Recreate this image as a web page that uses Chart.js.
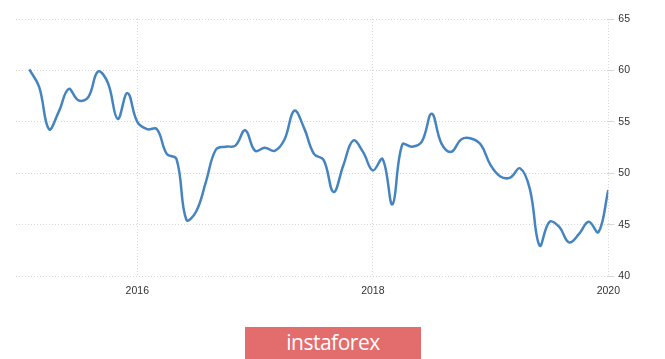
<!DOCTYPE html>
<html>
<head>
<meta charset="utf-8">
<script src="https://cdn.jsdelivr.net/npm/chart.js@4/dist/chart.umd.min.js"></script>
<style>
  body { margin: 0; background: #fff; }
  #wrap { position: relative; width: 665px; height: 359px; }
  #badge {
    position: absolute; left: 245px; top: 327px; width: 176px; height: 32px;
    background: #e36d6d; color: #fff; font: 21px "Open Sans", sans-serif;
    text-align: center; line-height: 31px; letter-spacing: -0.5px;
  }
</style>
</head>
<body>
<div id="wrap">
  <canvas id="chart" width="665" height="359"></canvas>
  <div id="badge">instaforex</div>
</div>
<script>
// Monthly index, Feb 2015 - Jan 2020
const months = [
  '2015-02','2015-03','2015-04','2015-05','2015-06','2015-07','2015-08','2015-09','2015-10','2015-11','2015-12',
  '2016-01','2016-02','2016-03','2016-04','2016-05','2016-06','2016-07','2016-08','2016-09','2016-10','2016-11','2016-12',
  '2017-01','2017-02','2017-03','2017-04','2017-05','2017-06','2017-07','2017-08','2017-09','2017-10','2017-11','2017-12',
  '2018-01','2018-02','2018-03','2018-04','2018-05','2018-06','2018-07','2018-08','2018-09','2018-10','2018-11','2018-12',
  '2019-01','2019-02','2019-03','2019-04','2019-05','2019-06','2019-07','2019-08','2019-09','2019-10','2019-11','2019-12',
  '2020-01'
];
const values = [
  60.1, 58.4, 54.3, 56.0, 58.2, 57.1, 57.4, 59.9, 58.8, 55.3, 57.8,
  55.0, 54.3, 54.3, 51.9, 51.4, 45.5, 46.3, 49.2, 52.3, 52.6, 52.7, 54.2,
  52.2, 52.5, 52.2, 53.3, 56.1, 54.4, 51.9, 51.3, 48.2, 50.8, 53.2, 52.1,
  50.3, 51.4, 47.0, 52.8, 52.6, 53.1, 55.8, 52.9, 52.1, 53.3, 53.4, 52.8,
  50.8, 49.7, 49.6, 50.5, 48.5, 43.0, 45.3, 44.8, 43.3, 44.1, 45.3, 44.3,
  48.4
];
const xTicks = [2016, 2018, 2020];
const yTicks = [40, 45, 50, 55, 60, 65];

// month string -> fractional year
function toYear(m) {
  const [y, mo] = m.split('-').map(Number);
  return y + (mo - 1) / 12;
}

const points = months.map((m, i) => ({ x: toYear(m), y: values[i] }));
const gridColor = '#d6d6d6';

new Chart(document.getElementById('chart'), {
  type: 'line',
  data: {
    datasets: [{
      data: points,
      borderColor: '#4684c0',
      borderWidth: 2.5,
      pointRadius: 0,
      fill: false,
      tension: 0.4
    }]
  },
  options: {
    responsive: false,
    animation: false,
    layout: { padding: { left: 16, right: 31, top: 19, bottom: 54 } },
    plugins: { legend: { display: false }, tooltip: { enabled: false } },
    scales: {
      x: {
        type: 'linear',
        min: 2014.97,
        max: 2020,
        afterBuildTicks: (scale) => { scale.ticks = xTicks.map(v => ({ value: v })); },
        grid: { color: gridColor, drawTicks: false, tickLength: 0 },
        border: { display: false, dash: [1, 2] },
        ticks: {
          color: '#333',
          font: { family: 'Liberation Sans', size: 10.5 },
          padding: 8,
          maxRotation: 0,
          callback: (v) => String(v)
        }
      },
      y: {
        position: 'right',
        min: 40,
        max: 65,
        afterBuildTicks: (scale) => { scale.ticks = yTicks.map(v => ({ value: v })); },
        grid: { color: gridColor, drawTicks: true, tickLength: 6 },
        border: { display: false, dash: [1, 2] },
        ticks: {
          color: '#333',
          font: { family: 'Liberation Sans', size: 10.5 },
          padding: 4
        }
      }
    }
  }
});
</script>
</body>
</html>
